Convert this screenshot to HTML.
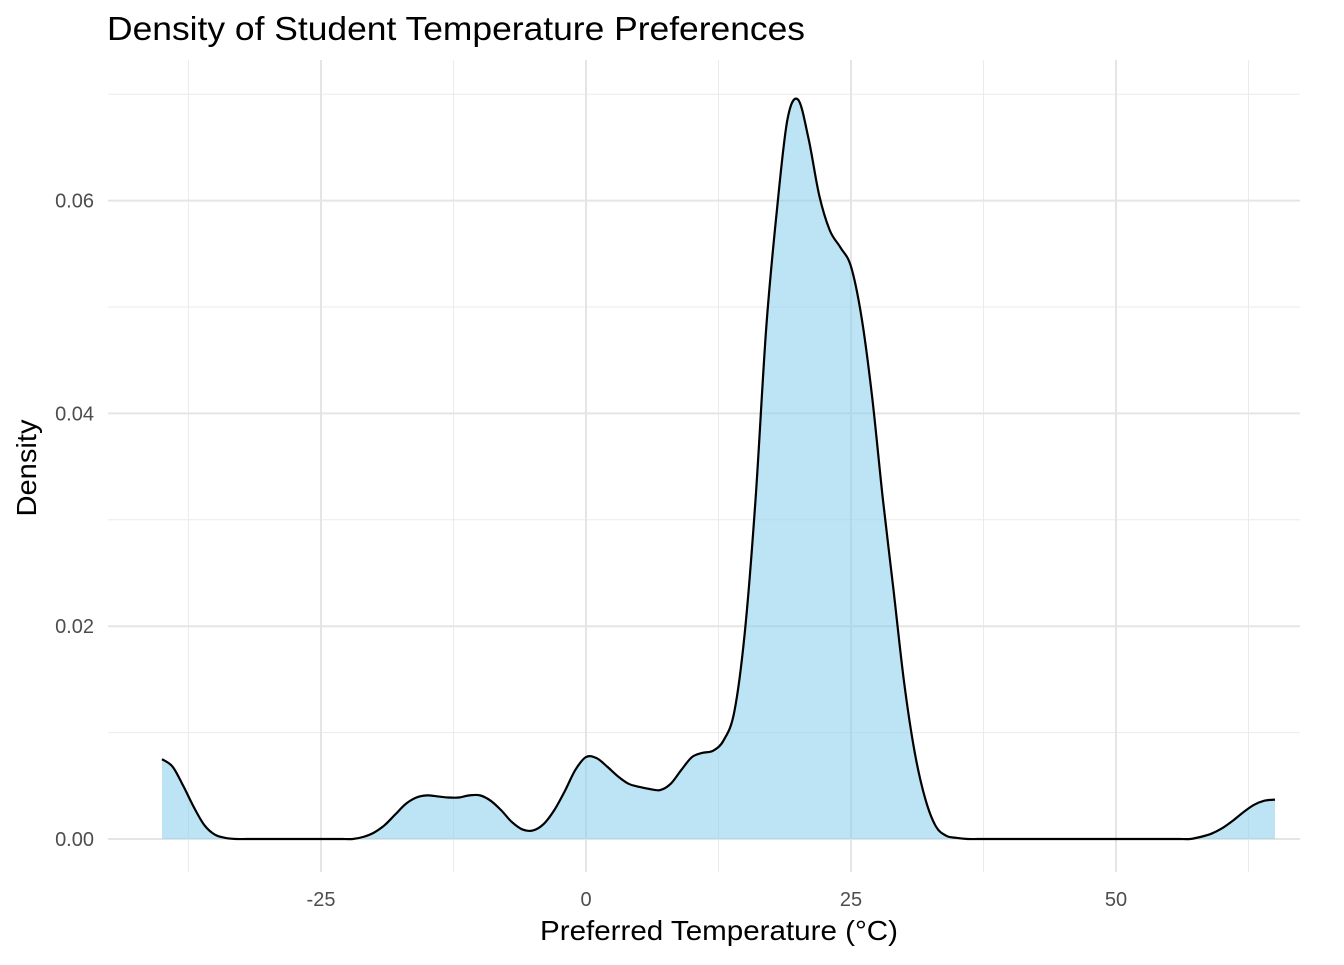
<!DOCTYPE html>
<html><head><meta charset="utf-8"><style>
body{margin:0;background:#fff;font-family:"Liberation Sans",sans-serif}
</style></head><body>
<svg id="c" width="1344" height="960" xmlns="http://www.w3.org/2000/svg"></svg>
<script>
const xs = [];
for (let i=-40;i<=65;i++) xs.push(i);
const densLeft = [0.0075,0.0068,0.005,0.003,0.0013,0.0004,0.0001]; // -40..-34
const densZeros1 = [0,0,0,0,0,0,0,0,0,0,0,0]; // -33..-22
const densMid = [0.0002,0.0006,0.0013,0.0023,0.0033,0.0039,0.0041,0.004,0.0039,0.0039,0.0041,0.0041,0.0036,0.0027,0.0016,0.0009,0.0008,0.0014,0.0027,0.0045,0.0065,0.0077,0.0076,0.0068,0.0059,0.0052,0.0049,0.0047,0.0046,0.0052,0.0065,0.0077,0.0081,0.0083,0.0093,0.012,0.0196,0.032,0.048,0.059,0.0676,0.0695,0.0658,0.0605,0.0572,0.0556,0.0538,0.049,0.0415,0.032,0.0235,0.0148,0.0082,0.0038,0.0012,0.0003,0.0001]; // -21..35
const densZeros2 = [0,0,0,0,0,0,0,0,0,0,0,0,0,0,0,0,0,0,0,0,0,0]; // 36..57
const densRight = [0.0002,0.0005,0.001,0.0017,0.0025,0.0032,0.0036,0.0037]; // 58..65
const dens = densLeft.concat(densZeros1, densMid, densZeros2, densRight);
const xTicks = [-25,0,25,50];
const xMinor = [-37.5,-12.5,12.5,37.5,62.5];
const yTicks = [0,0.02,0.04,0.06];
const yMinor = [0.01,0.03,0.05,0.07];
const yTickLabels = ["0.00","0.02","0.04","0.06"];
const sx = v => 586 + v*10.6;
const sy = v => 839 - v*10640;
const svg = document.getElementById('c');
const NS='http://www.w3.org/2000/svg';
function mk(tag, attrs, text){const e=document.createElementNS(NS,tag);for(const k in attrs)e.setAttribute(k,attrs[k]);if(text!==undefined)e.textContent=text;svg.appendChild(e);return e;}
const L=108,R=1300,T=60,B=872;
yMinor.forEach(v=>{const e=mk('line',{x1:L,x2:R,y1:sy(v),y2:sy(v),stroke:'#ebebeb','stroke-width':1});});
xMinor.forEach(v=>{const e=mk('line',{x1:sx(v),x2:sx(v),y1:T,y2:B,stroke:'#ebebeb','stroke-width':1});});
yTicks.forEach((v,i)=>{const e=mk('line',{x1:L,x2:R,y1:sy(v),y2:sy(v),stroke:'#e5e5e5','stroke-width':2});
const t=mk('text',{x:94,y:sy(v)+7,'text-anchor':'end','font-size':20,fill:'#4d4d4d'},yTickLabels[i]);});
xTicks.forEach(v=>{const e=mk('line',{x1:sx(v),x2:sx(v),y1:T,y2:B,stroke:'#e5e5e5','stroke-width':2});
const t=mk('text',{x:sx(v),y:906,'text-anchor':'middle','font-size':20,fill:'#4d4d4d'},String(v));});
const pts=xs.map((x,i)=>[sx(x),sy(dens[i])]);
let d='M'+pts[0][0]+','+pts[0][1];
for(let i=0;i<pts.length-1;i++){const p0=pts[Math.max(0,i-1)],p1=pts[i],p2=pts[i+1],p3=pts[Math.min(pts.length-1,i+2)];
d+=` C${p1[0]+(p2[0]-p0[0])/6},${p1[1]+(p2[1]-p0[1])/6} ${p2[0]-(p3[0]-p1[0])/6},${p2[1]-(p3[1]-p1[1])/6} ${p2[0]},${p2[1]}`;}
const area=mk('path',{d:d+` L${pts[pts.length-1][0]},${sy(0)} L${pts[0][0]},${sy(0)} Z`,fill:'#87ceeb','fill-opacity':0.55,stroke:'none'});

const line=mk('path',{d:d,fill:'none',stroke:'#000','stroke-width':2.2});

const tt=mk('text',{x:107,y:40,'font-size':33,fill:'#000',textLength:698,lengthAdjust:'spacingAndGlyphs'},'Density of Student Temperature Preferences');

const xt=mk('text',{x:719,y:940,'text-anchor':'middle','font-size':28,fill:'#000',textLength:358,lengthAdjust:'spacingAndGlyphs'},'Preferred Temperature (°C)');

const yt=mk('text',{x:0,y:0,'text-anchor':'middle','font-size':28,fill:'#000',transform:'translate(36,468) rotate(-90)',textLength:97,lengthAdjust:'spacingAndGlyphs'},'Density');

</script>
</body></html>
